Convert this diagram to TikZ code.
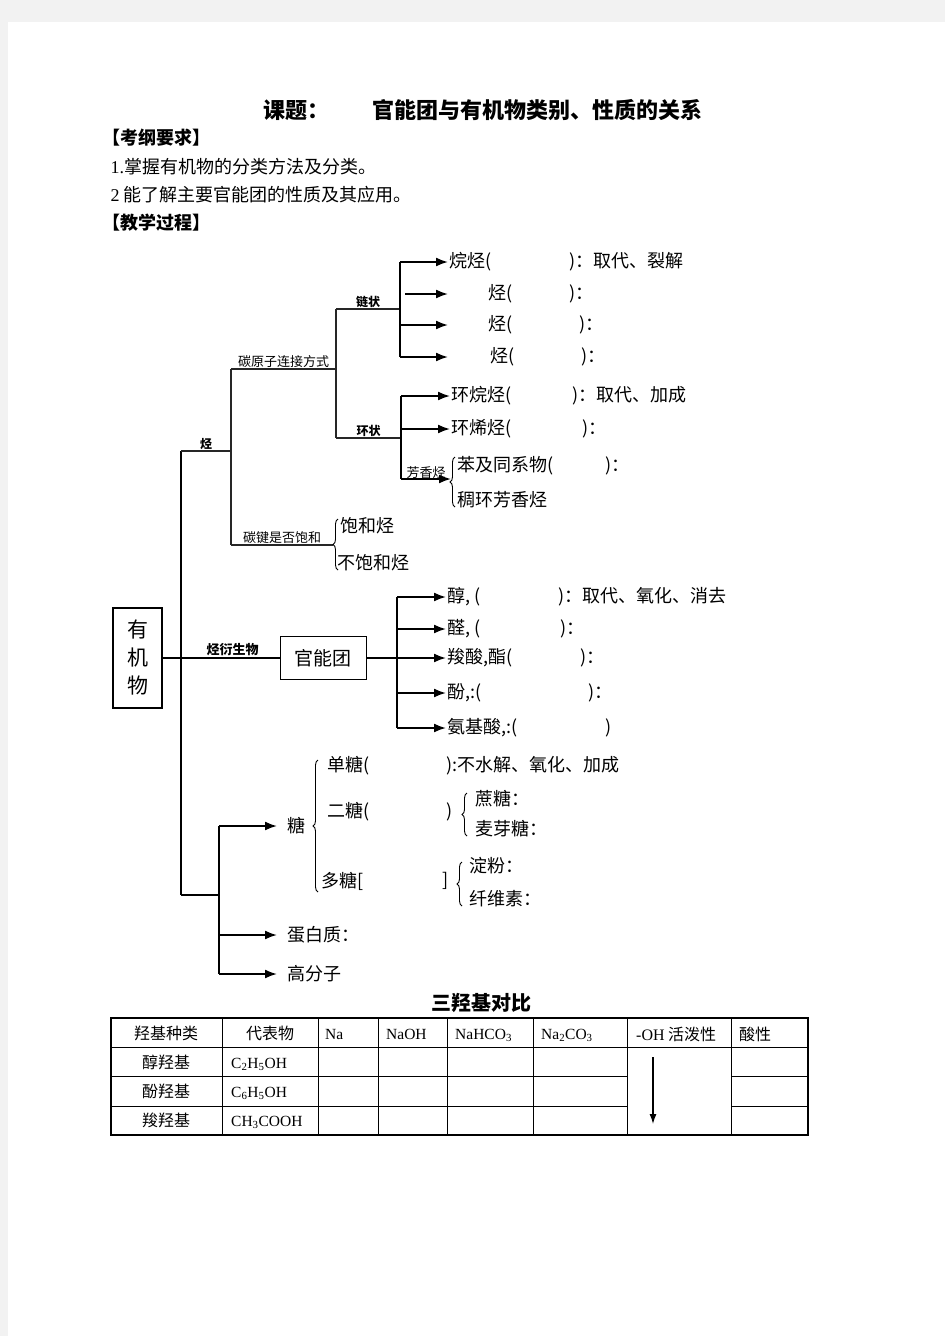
\documentclass[tikz,border=0pt]{standalone}
\usepackage{fontspec}
\setmainfont{Noto Sans CJK SC}
\newfontfamily\lat{Liberation Serif}
\usetikzlibrary{decorations.pathreplacing, arrows.meta}

\begin{document}
\begin{tikzpicture}[x=1pt,y=-1pt,
  txt/.style={anchor=west,inner sep=1.5pt,font=\fontsize{18}{20}\selectfont},
  tag/.style={inner sep=1pt,font=\fontsize{13}{15}\selectfont},
  boldtag/.style={inner sep=1pt,font=\fontsize{12}{14}\selectfont\bfseries},
  trunk/.style={line width=2.8pt},
  branch/.style={line width=1.3pt,draw=black!85},
  stem/.style={line width=1.8pt},
  arr/.style={line width=1.8pt,-{Latex[length=12pt,width=9pt]}},
  brc/.style={decorate,decoration={brace,amplitude=5pt},line width=0.9pt},
  cell/.style={inner sep=0pt,font=\fontsize{16}{18}\selectfont},
  latcell/.style={anchor=base west,inner sep=0pt,font=\fontsize{15.5}{17}\lat}]

% page
\fill[black!5] (0,0) rectangle (945,1336);
\fill[white] (8,22) rectangle (945,1336);
\useasboundingbox (0,0) rectangle (945,1336);

% heading
\node[txt,font=\fontsize{22}{24}\selectfont\bfseries] (ke) at (262,110) {课题：};
\node[txt,font=\fontsize{22}{24}\selectfont\bfseries] (topic) at (371,110) {官能团与有机物类别、性质的关系};
\node[txt,font=\fontsize{18}{20}\selectfont\bfseries] (req) at (101,138) {【考纲要求】};
\node[txt] (req1) at (109,167) {{\lat 1.}掌握有机物的分类方法及分类。};
\node[txt] (req2) at (109,195) {{\lat 2} 能了解主要官能团的性质及其应用。};
\node[txt,font=\fontsize{18}{20}\selectfont\bfseries] (proc) at (101,223) {【教学过程】};

% root
\node[draw,line width=1.2pt,minimum width=49,minimum height=100,align=center,inner sep=0pt,
  font=\fontsize{21}{28}\selectfont] (org) at (137.5,658) {有\\机\\物};
\coordinate (t) at (181,451);
\coordinate (b) at (181,895);
\draw[trunk] (t) -- (b);

% hydrocarbons
\coordinate (h0) at (231,451);
\coordinate (h1) at (231,369);
\coordinate (h2) at (231,545);
\draw[branch] (t) -- (h0) node[boldtag,midway,above] (hlab) {烃};
\draw[branch] (h1) -- (h2);
\coordinate (c0) at (336,369);
\coordinate (c1) at (336,309);
\coordinate (c2) at (336,438);
\draw[branch] (h1) -- (c0) node[tag,midway,above] (cjlab) {碳原子连接方式};
\draw[branch] (c1) -- (c2);
\coordinate (l0) at (400,309);
\coordinate (r0) at (401,438);
\draw[branch] (c1) -- (l0) node[boldtag,midway,above] (chlab) {链状};
\draw[branch] (c2) -- (r0) node[boldtag,midway,above] (rglab) {环状};

% chain
\coordinate (l1) at (400,262);
\coordinate (l2) at (405,294);
\coordinate (l3) at (400,325);
\coordinate (l4) at (400,357);
\draw[stem] (l1) -- (l4);
\node[txt] (alk) at (448,262) {烷烃(};
\node[txt] (alkp) at (568,262) {)：取代、裂解};
\node[txt] (ene) at (448,294) {\hspace{2.15em}烃(};
\node[txt] (enep) at (568,294) {)：};
\node[txt] (yne) at (448,325) {\hspace{2.15em}烃(};
\node[txt] (ynep) at (578,325) {)：};
\node[txt] (die) at (448,357) {\hspace{2.25em}烃(};
\node[txt] (diep) at (580,357) {)：};
\draw[arr] (l1) -- (alk.west);
\draw[arr] (l2) -- (ene.west);
\draw[arr] (l3) -- (yne.west);
\draw[arr] (l4) -- (die.west);

% ring
\coordinate (r1) at (401,396);
\coordinate (r2) at (401,429);
\coordinate (r3) at (401,479);
\draw[stem] (r1) -- (r3);
\node[txt] (cyc) at (450,396) {环烷烃(};
\node[txt] (cycp) at (571,396) {)：取代、加成};
\node[txt] (cye) at (450,429) {环烯烃(};
\node[txt] (cyep) at (581,429) {)：};
\draw[arr] (r1) -- (cyc.west);
\draw[arr] (r2) -- (cye.west);
\coordinate (a0) at (451,479);
\draw[arr] (r3) -- (a0) node[tag,midway,above,inner sep=0pt] (arom) {芳香烃};
\draw[brc] (455,507) -- (455,457);
\node[txt] (benz) at (456,466) {苯及同系物(};
\node[txt] (benzp) at (604,466) {)：};
\node[txt] (fused) at (456,500) {稠环芳香烃};

% saturation
\coordinate (s0) at (333,545);
\draw[branch] (h2) -- (s0) node[tag,midway,above] (satlab) {碳键是否饱和};
\draw[brc] (338,570) -- (338,519);
\node[txt] (sat) at (339,526) {饱和烃};
\node[txt] (unsat) at (336,563) {不饱和烃};

% derivatives
\node[draw,line width=1pt,minimum width=86,minimum height=43,inner sep=0pt,
  font=\fontsize{19}{21}\selectfont] (fg) at (323,658) {官能团};
\draw[stem] (org.east) -- (fg.west) node[boldtag,pos=0.6,above,font=\fontsize{13}{15}\selectfont\bfseries] (devlab) {烃衍生物};
\coordinate (g0) at (397,658);
\coordinate (g1) at (397,597);
\coordinate (g2) at (397,629);
\coordinate (g4) at (397,693);
\coordinate (g5) at (397,728);
\draw[stem] (fg.east) -- (g0);
\draw[stem] (g1) -- (g5);
\node[txt] (alc) at (446,597) {醇, (};
\node[txt] (alcp) at (557,597) {)：取代、氧化、消去};
\node[txt] (ald) at (446,629) {醛, (};
\node[txt] (aldp) at (559,629) {)：};
\node[txt] (acid) at (446,658) {羧酸,酯(};
\node[txt] (acidp) at (579,658) {)：};
\node[txt] (phen) at (446,693) {酚,:(};
\node[txt] (phenp) at (587,693) {)：};
\node[txt] (amino) at (446,728) {氨基酸,:(};
\node[txt] (aminop) at (604,728) {)};
\draw[arr] (g1) -- (alc.west);
\draw[arr] (g2) -- (ald.west);
\draw[arr] (g0) -- (acid.west);
\draw[arr] (g4) -- (phen.west);
\draw[arr] (g5) -- (amino.west);

% others
\coordinate (m0) at (219,895);
\coordinate (m1) at (219,826);
\coordinate (m2) at (219,935);
\coordinate (m3) at (219,974);
\draw[stem] (b) -- (m0);
\draw[stem] (m1) -- (m3);
\node[txt,inner xsep=10pt] (sug) at (277,826) {糖};
\node[txt,inner xsep=10pt] (prot) at (277,935) {蛋白质：};
\node[txt,inner xsep=10pt] (poly) at (277,974) {高分子};
\draw[arr] (m1) -- (sug.west);
\draw[arr] (m2) -- (prot.west);
\draw[arr] (m3) -- (poly.west);
\draw[brc] (318,892) -- (318,760);
\node[txt] (mono) at (326,766) {单糖(};
\node[txt] (monop) at (445,766) {):不水解、氧化、加成};
\node[txt] (di) at (326,812) {二糖(};
\node[txt] (dip) at (445,812) {)};
\draw[brc] (467,836) -- (467,793);
\node[txt] (suc) at (474,799) {蔗糖：};
\node[txt] (malt) at (474,829) {麦芽糖：};
\node[txt] (pol) at (320,881) {多糖[};
\node[txt] (polp) at (441,881) {]};
\draw[brc] (462,906) -- (462,862);
\node[txt] (starch) at (468,866) {淀粉：};
\node[txt] (cellu) at (468,899) {纤维素：};

% table
\node[font=\fontsize{20}{22}\selectfont\bfseries] (ttl) at (481,1003) {三羟基对比};
\draw[line width=1.2pt] (111,1018) rectangle (808,1135);
\draw[line width=1pt] (111,1047) -- (808,1047);
\draw[line width=1pt] (111,1076) -- (627,1076);
\draw[line width=1pt] (731,1076) -- (808,1076);
\draw[line width=1pt] (111,1106) -- (627,1106);
\draw[line width=1pt] (731,1106) -- (808,1106);
\draw[line width=1pt] (222,1018) -- (222,1135);
\draw[line width=1pt] (318,1018) -- (318,1135);
\draw[line width=1pt] (378,1018) -- (378,1135);
\draw[line width=1pt] (447,1018) -- (447,1135);
\draw[line width=1pt] (533,1018) -- (533,1135);
\draw[line width=1pt] (627,1018) -- (627,1135);
\draw[line width=1pt] (731,1018) -- (731,1135);
\node[cell] (hkind) at (166,1033) {羟基种类};
\node[cell] (hrep) at (270,1033) {代表物};
\node[latcell] (hna) at (325,1039) {Na};
\node[latcell] (hnaoh) at (386,1039) {NaOH};
\node[latcell] (hhco) at (455,1039) {NaHCO\textsubscript{3}};
\node[latcell] (hco) at (541,1039) {Na\textsubscript{2}CO\textsubscript{3}};
\node[cell,anchor=west] (hact) at (636,1034) {{\lat -OH} 活泼性};
\node[cell,anchor=west] (hacid) at (739,1034) {酸性};
\node[cell] (ralc) at (166,1062) {醇羟基};
\node[latcell] (ralcf) at (231,1068) {C\textsubscript{2}H\textsubscript{5}OH};
\node[cell] (rphe) at (166,1091) {酚羟基};
\node[latcell] (rphef) at (231,1097) {C\textsubscript{6}H\textsubscript{5}OH};
\node[cell] (rcar) at (166,1120) {羧羟基};
\node[latcell] (rcarf) at (231,1126) {CH\textsubscript{3}COOH};
\coordinate (o1) at (653,1057);
\coordinate (o2) at (653,1124);
\draw[line width=1.3pt,-{Latex[length=10pt,width=7pt]}] (o1) -- (o2);
\end{tikzpicture}
\end{document}
